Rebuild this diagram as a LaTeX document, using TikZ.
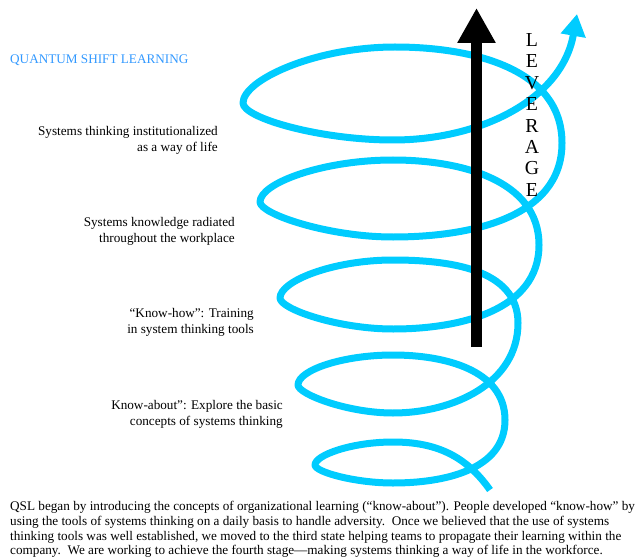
\documentclass[tikz,border=0pt]{standalone}
\usepackage{fontspec}
\setmainfont{Liberation Serif}
\usetikzlibrary{arrows.meta}
\definecolor{spiralcyan}{RGB}{0,204,255}
\definecolor{titleblue}{RGB}{51,153,255}
\begin{document}
\begin{tikzpicture}[x=1pt,y=1pt,
  coil/.style={draw=spiralcyan, line width=7pt, line join=round},
  lever/.style={draw=black, line width=11.5pt},
  stage/.style={align=right, anchor=east, inner sep=0pt,
    font=\fontsize{13.2}{16}\selectfont},
  caption/.style={align=left, anchor=north west, inner sep=0pt,
    font=\fontsize{13.2}{14.8}\selectfont},
  ]
\useasboundingbox (0,0) rectangle (642,558);

% rising spiral of learning stages: each turn is top -> left tip -> bottom -> right side
\draw[coil, -{Triangle[width=24pt,length=22pt]}]
  (490,68) to[out=125,in=0] (393,116)
  .. controls (352,116) and (315,103) .. (315,93)
  .. controls (315,86) and (355,75) .. (393,75)
  to[out=0,in=-90] (505,138)
  to[out=90,in=0] (393,203)
  .. controls (343,203) and (298,188) .. (298,173)
  .. controls (298,164) and (347,145) .. (393,145)
  to[out=0,in=-90] (518,235)
  to[out=90,in=0] (393,298)
  .. controls (333,298) and (280,277) .. (280,260)
  .. controls (280,249) and (338,229) .. (393,229)
  to[out=0,in=-90] (539,313)
  to[out=90,in=0] (393,398)
  .. controls (323,398) and (260,375) .. (260,356)
  .. controls (260,344) and (328,321) .. (393,321)
  to[out=0,in=-90] (562,415)
  to[out=90,in=0] (395,511)
  .. controls (315,511) and (243,478) .. (243,455)
  .. controls (243,440) and (320,418) .. (393,418)
  to[out=0,in=-100] (577,544);

% leverage arrow
\coordinate (levfoot) at (476.5,211);
\coordinate (levtip) at (476.5,550);
\draw[lever, -{Triangle[width=36pt,length=35pt]}] (levfoot) -- (levtip);

\node[align=center, inner sep=0pt, font=\fontsize{19.8}{21.4}\selectfont]
  (leverage) at (532,443) {L\\E\\V\\E\\R\\A\\G\\E};

% title
\node[anchor=west, inner sep=0pt, text=titleblue, font=\fontsize{13.2}{15}\selectfont]
  (title) at (10,498) {QUANTUM SHIFT LEARNING};

% stage labels
\node[stage] (stage4) at (218,418) {Systems thinking institutionalized\\as a way of life};
\node[stage] (stage3) at (235,327) {Systems knowledge radiated\\throughout the workplace};
\node[stage] (stage2) at (254,236) {“Know-how”: Training\\in system thinking tools};
\node[stage] (stage1) at (283,143.5) {Know-about”: Explore the basic\\concepts of systems thinking};

% explanatory paragraph
\node[caption] (summary) at (10,57) {QSL began by introducing the concepts of organizational learning (“know-about”). People developed “know-how” by\\
using the tools of systems thinking on a daily basis to handle adversity.\ \ Once we believed that the use of systems\\
thinking tools was well established, we moved to the third state helping teams to propagate their learning within the\\
company.\ \ We are working to achieve the fourth stage—making systems thinking a way of life in the workforce.};
\end{tikzpicture}
\end{document}
